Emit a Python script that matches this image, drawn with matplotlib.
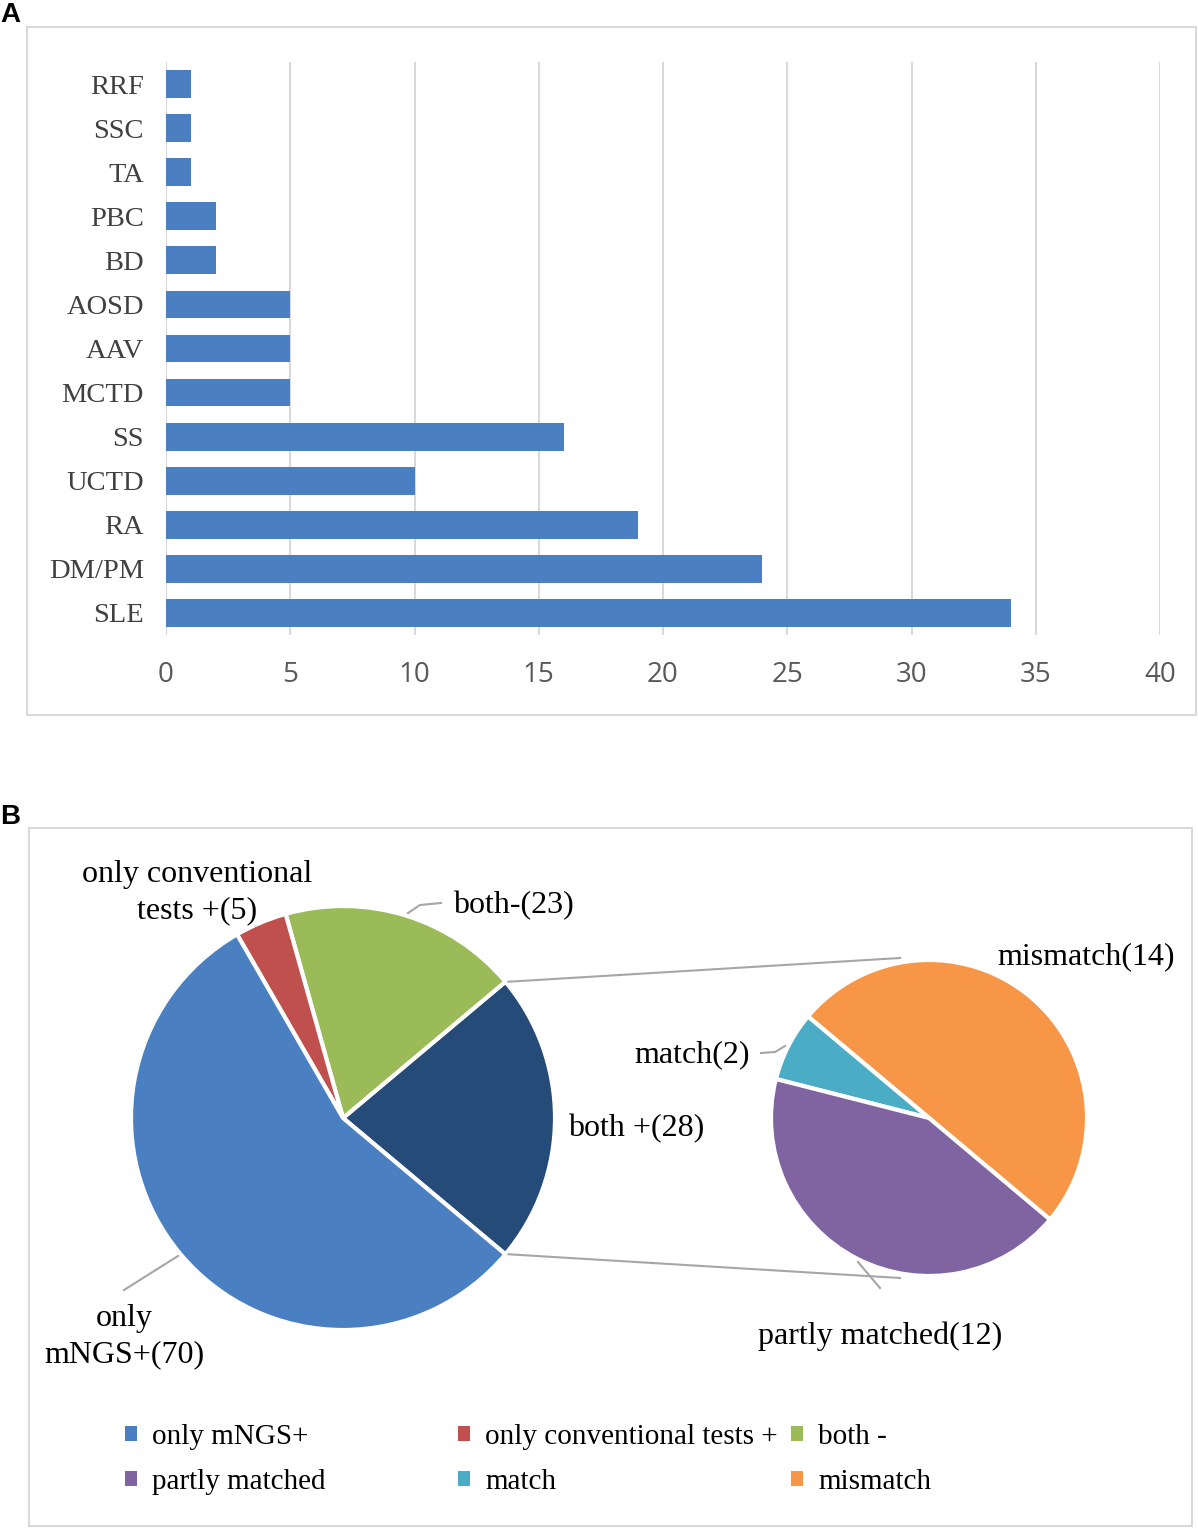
import matplotlib
matplotlib.use("Agg")
import matplotlib.pyplot as plt
from matplotlib.patches import Rectangle, Patch
import numpy as np

# ---------------- data ----------------
diseases = ["RRF", "SSC", "TA", "PBC", "BD", "AOSD", "AAV", "MCTD", "SS", "UCTD", "RA", "DM/PM", "SLE"]
counts = [1, 1, 1, 2, 2, 5, 5, 5, 16, 10, 19, 24, 34]
x_ticks = [0, 5, 10, 15, 20, 25, 30, 35, 40]

main_labels = ["both +", "both -", "only conventional tests +", "only mNGS+"]
main_values = [28, 23, 5, 70]
main_colors = ["#254B78", "#9BBB59", "#C0504D", "#4A7FC1"]

sub_labels = ["mismatch", "match", "partly matched"]
sub_values = [14, 2, 12]
sub_colors = ["#F79646", "#4BACC6", "#8064A2"]

W, H = 1198, 1528
fig = plt.figure(figsize=(W / 100, H / 100), dpi=100)

SERIF = ["Liberation Serif", "DejaVu Serif"]
SANS = ["Open Sans", "DejaVu Sans"]

# overlay axes in pixel coordinates (y up)
ov = fig.add_axes([0, 0, 1, 1])
ov.set_axis_off()

def Y(ypx):
    return H - ypx

# ---------------- panel A ----------------
ax = fig.add_axes([166 / W, 1 - 635 / H, (1160 - 166) / W, (635 - 62) / H])
ypos = np.arange(len(diseases))[::-1]
ax.barh(ypos, counts, height=0.63, color="#4A7FC1", zorder=3)
ax.set_xlim(0, 40)
ax.set_ylim(-0.5, len(diseases) - 0.5)
ax.set_xticks(x_ticks)
ax.set_xticklabels([str(t) for t in x_ticks], fontsize=20, color="#595959", family=SANS)
ax.set_yticks(ypos)
ax.set_yticklabels(diseases, fontsize=20.5, color="#404040", family=SERIF)
ax.tick_params(length=0)
ax.tick_params(axis="x", pad=19)
ax.tick_params(axis="y", pad=16)
for s in ax.spines.values():
    s.set_visible(False)
ax.xaxis.grid(True, color="#D9D9D9", lw=1.5, zorder=0)
ax.set_axisbelow(True)
ax.patch.set_alpha(0)

# ---------------- panel boxes and letters ----------------
ov.add_patch(Rectangle((27, Y(715)), 1196 - 27, 715 - 27, fill=False, edgecolor="#D9D9D9", lw=1.5))
ov.add_patch(Rectangle((29, Y(1526)), 1192 - 29, 1526 - 828, fill=False, edgecolor="#D9D9D9", lw=1.5))
ov.text(0, Y(15), "A", fontsize=20, fontweight="bold", family=["Liberation Sans", "DejaVu Sans"], va="center", ha="left")
ov.text(0, Y(817), "B", fontsize=20, fontweight="bold", family=["Liberation Sans", "DejaVu Sans"], va="center", ha="left")

# ---------------- panel B pies ----------------
c1 = (343, Y(1118)); r1 = 212
c2 = (929, Y(1118)); r2 = 158
wp = dict(edgecolor="white", linewidth=3)
ov.pie(main_values, colors=main_colors, startangle=-40, counterclock=True,
       radius=r1, center=c1, wedgeprops=wp, frame=True)
ov.pie(sub_values, colors=sub_colors, startangle=-40, counterclock=True,
       radius=r2, center=c2, wedgeprops=wp, frame=True)
ov.set_xlim(0, W)
ov.set_ylim(0, H)
ov.set_axis_off()

# series (connector) lines from the split wedge to the second pie
a = np.deg2rad(40)
gray = "#A6A6A6"
ov.plot([c1[0] + r1 * np.cos(a) + 3, c2[0] - 29], [c1[1] + r1 * np.sin(a), c2[1] + r2 + 2], color=gray, lw=1.5)
ov.plot([c1[0] + r1 * np.cos(a) + 3, c2[0] - 29], [c1[1] - r1 * np.sin(a), c2[1] - r2 - 2], color=gray, lw=1.5)

# leader lines
ov.plot([408, 420, 441], [Y(913), Y(905), Y(903)], color=gray, lw=1.5)
ov.plot([178, 124], [Y(1256), Y(1290)], color=gray, lw=1.5)
ov.plot([761, 775, 785], [Y(1053), Y(1052), Y(1046)], color=gray, lw=1.5)
ov.plot([858, 880], [Y(1262), Y(1288)], color=gray, lw=1.5)

# data labels
lab_fs = 23
ov.text(197, Y(893), "only conventional\ntests +(%d)" % main_values[2], fontsize=lab_fs, family=SERIF,
        ha="center", va="center", linespacing=1.32)
ov.text(453, Y(906), "both-(%d)" % main_values[1], fontsize=lab_fs, family=SERIF, ha="left", va="center")
ov.text(568, Y(1129), "both +(%d)" % main_values[0], fontsize=lab_fs, family=SERIF, ha="left", va="center")
ov.text(124, Y(1337), "only\nmNGS+(%d)" % main_values[3], fontsize=lab_fs, family=SERIF,
        ha="center", va="center", linespacing=1.32)
ov.text(1086, Y(957), "mismatch(%d)" % sub_values[0], fontsize=lab_fs, family=SERIF, ha="center", va="center")
ov.text(750, Y(1055), "match(%d)" % sub_values[1], fontsize=lab_fs, family=SERIF, ha="right", va="center")
ov.text(880, Y(1336), "partly matched(%d)" % sub_values[2], fontsize=lab_fs, family=SERIF, ha="center", va="center")

# legend: three columns
cols = [
    [("only mNGS+", main_colors[3]), ("partly matched", sub_colors[2])],
    [("only conventional tests +", main_colors[2]), ("match", sub_colors[1])],
    [("both -", main_colors[1]), ("mismatch", sub_colors[0])],
]
col_x = [125, 458, 791]
for cx, entries in zip(col_x, cols):
    handles = [Patch(facecolor=c, edgecolor="none", label=l) for l, c in entries]
    fig.legend(handles=handles, loc="upper left", bbox_to_anchor=(cx / W, 1 - 1424 / H),
               frameon=False, borderpad=0, borderaxespad=0, handlelength=0.42, handleheight=0.42,
               handletextpad=0.52, labelspacing=0.66, prop=dict(family=SERIF, size=21))

fig.savefig("out.png", dpi=100)
